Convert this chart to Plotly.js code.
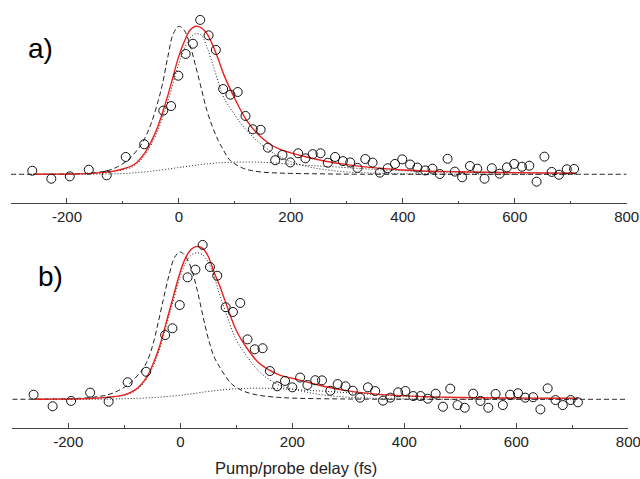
<!DOCTYPE html>
<html>
<head>
<meta charset="utf-8">
<script src="https://cdn.plot.ly/plotly-3.0.1.min.js"></script>
<style>html,body{margin:0;padding:0;background:#fff;}#chart{width:640px;height:479px;}</style>
</head>
<body>
<div id="chart"></div>
<script>
// ---- data ----
const delayA = [-262,-228,-195,-161,-129,-95,-62,-28,-14,-1,12,25,38,53,66,79,92,105,119,132,146,159,172,185,199,213,226,239,253,266,279,293,306,319,333,346,359,373,386,399,413,426,440,453,466,480,493,506,520,533,546,559,573,586,599,613,626,639,653,666,679,693,706];
const signalA = [0.024,-0.030,-0.014,0.031,-0.007,0.117,0.203,0.430,0.461,0.666,0.813,0.882,1.043,0.939,0.840,0.576,0.538,0.556,0.394,0.304,0.301,0.180,0.095,0.131,0.080,0.142,0.108,0.136,0.142,0.078,0.117,0.089,0.080,0.043,0.103,0.079,0.011,0.041,0.070,0.101,0.066,0.045,0.026,0.038,0.002,0.105,0.018,-0.020,0.056,0.038,-0.030,0.041,0.004,0.047,0.070,0.051,0.058,-0.050,0.119,0.016,-0.003,0.034,0.036];

const delayB = [-262,-228,-195,-161,-128,-94,-61,-27,-14,-1,13,27,40,53,66,81,94,107,120,133,147,160,173,187,200,214,227,241,253,268,281,295,308,321,335,348,362,375,389,402,416,429,442,456,469,482,495,508,523,536,550,563,576,589,603,616,630,643,656,670,683,697,710];
const signalB = [0.031,-0.047,-0.011,0.045,-0.016,0.115,0.186,0.434,0.480,0.637,0.824,0.876,1.043,0.894,0.835,0.622,0.590,0.651,0.405,0.338,0.345,0.191,0.088,0.124,0.081,0.147,0.097,0.129,0.128,0.058,0.103,0.088,0.058,0.011,0.081,0.056,-0.009,0.011,0.047,0.056,0.022,0.022,0.004,0.038,-0.050,0.072,-0.039,-0.057,0.038,-0.011,-0.057,0.036,-0.039,0.031,0.041,0.011,0.014,-0.068,0.074,-0.005,-0.039,-0.005,-0.020];

// fitted curves (read at sample delays)
const fitTime = [-260,-220,-180,-150,-120,-100,-80,-60,-40,-20,0,10,20,30,40,50,60,70,80,100,120,140,160,180,200,230,260,300,350,400,450,500,600,710];
const fitTotalA = [0,0.001,0.003,0.008,0.02,0.036,0.066,0.15,0.30,0.53,0.80,0.90,0.975,1.0,0.99,0.95,0.875,0.78,0.675,0.51,0.37,0.275,0.21,0.17,0.145,0.115,0.09,0.065,0.043,0.029,0.021,0.017,0.011,0.007];
const fitFastA = [0,0.001,0.003,0.007,0.017,0.031,0.056,0.134,0.275,0.49,0.75,0.85,0.92,0.95,0.94,0.86,0.75,0.63,0.52,0.40,0.30,0.225,0.165,0.12,0.085,0.052,0.032,0.016,0.008,0.004,0.002,0.001,0,0];
const fitSlowA = [0,0,0,0.001,0.003,0.005,0.01,0.016,0.025,0.035,0.046,0.051,0.056,0.061,0.066,0.07,0.074,0.077,0.079,0.082,0.083,0.082,0.079,0.074,0.068,0.06,0.054,0.045,0.033,0.024,0.018,0.014,0.009,0.006];

const fitTotalB = [0,0.001,0.003,0.008,0.018,0.03,0.065,0.15,0.325,0.59,0.862,0.96,1.015,1.033,1.02,0.965,0.862,0.77,0.665,0.465,0.34,0.247,0.195,0.16,0.142,0.113,0.085,0.057,0.035,0.023,0.016,0.012,0.008,0.007];
const fitFastB = [0,0.001,0.003,0.007,0.016,0.027,0.058,0.138,0.305,0.565,0.83,0.925,0.975,0.99,0.975,0.925,0.835,0.71,0.60,0.40,0.285,0.19,0.13,0.09,0.07,0.045,0.027,0.014,0.006,0.003,0.001,0,0,0];
const fitSlowB = [0,0,0,0,0.002,0.004,0.006,0.009,0.014,0.02,0.027,0.032,0.037,0.042,0.048,0.053,0.058,0.062,0.066,0.071,0.074,0.075,0.074,0.071,0.067,0.06,0.054,0.044,0.032,0.022,0.016,0.012,0.008,0.006];

// instrument response (dashed), over the full axis
const irfTime = [-300,-250,-200,-160,-130,-110,-90,-70,-60,-50,-40,-30,-20,-10,0,10,20,30,40,50,60,70,80,90,100,115,130,150,175,200,250,300,400,500,600,700,800];
const irfA = [0,0,0.002,0.008,0.022,0.05,0.10,0.186,0.25,0.34,0.457,0.60,0.79,0.95,1.0,0.97,0.87,0.73,0.58,0.43,0.32,0.23,0.16,0.10,0.07,0.04,0.025,0.014,0.009,0.006,0.003,0.001,0,0,0,0,0];
const irfB = [0,0.001,0.004,0.012,0.03,0.06,0.108,0.19,0.25,0.355,0.51,0.68,0.84,0.96,0.995,0.96,0.88,0.74,0.57,0.41,0.29,0.22,0.16,0.11,0.08,0.052,0.035,0.022,0.013,0.008,0.004,0.002,0,0,0,0,0];

const tickVals = [-200,0,200,400,600,800];
const tickText = ['-200','0','200','400','600','800'];
const panelLabels = ['a)','b)'];
const xTitle = 'Pump/probe delay (fs)';

// ---- drawing ----
const FONT = 'Liberation Sans, Arial, sans-serif';
function panel(xa, ya, irf, fast, slow, total, dx, dy) {
  const sp = {shape:'spline', smoothing:1};
  return [
    {x:irfTime, y:irf, xaxis:xa, yaxis:ya, mode:'lines', line:Object.assign({color:'#222', width:1, dash:'5px,3px'}, sp), hoverinfo:'skip'},
    {x:fitTime, y:slow, xaxis:xa, yaxis:ya, mode:'lines', line:Object.assign({color:'#222', width:1, dash:'1px,2px'}, sp), hoverinfo:'skip'},
    {x:fitTime, y:fast, xaxis:xa, yaxis:ya, mode:'lines', line:Object.assign({color:'#222', width:1, dash:'1px,2px'}, sp), hoverinfo:'skip'},
    {x:fitTime, y:total, xaxis:xa, yaxis:ya, mode:'lines', line:Object.assign({color:'#e8211f', width:1.4}, sp), hoverinfo:'skip'},
    {x:dx, y:dy, xaxis:xa, yaxis:ya, mode:'markers', marker:{symbol:'circle-open', size:9, color:'#111', line:{width:1, color:'#111'}}, cliponaxis:false}
  ];
}
const data = [].concat(
  panel('x','y', irfA, fitFastA, fitSlowA, fitTotalA, delayA, signalA),
  panel('x2','y2', irfB, fitFastB, fitSlowB, fitTotalB, delayB, signalB)
);
function xaxis(dom, anchor) {
  return {domain:dom, anchor:anchor, range:[-300,800], showgrid:false, zeroline:false,
    showline:true, linecolor:'#444', linewidth:1,
    ticks:'inside', ticklen:5, tickwidth:1, tickcolor:'#444',
    tickvals:tickVals, ticktext:tickText, ticklabeloverflow:'allow',
    minor:{ticks:'inside', ticklen:2.5, tickwidth:1, tickcolor:'#444', dtick:100, tick0:0, showgrid:false},
    tickfont:{family:FONT, size:15, color:'#222'}, automargin:false, fixedrange:true};
}
function yaxis(dom, anchor, lo, hi) {
  return {domain:dom, anchor:anchor, range:[lo,hi], visible:false, showgrid:false, zeroline:false, fixedrange:true};
}
const H = 479, W = 640;
const layout = {
  width:W, height:H, margin:{l:0,r:0,t:0,b:0}, showlegend:false,
  paper_bgcolor:'#fff', plot_bgcolor:'rgba(0,0,0,0)',
  xaxis: xaxis([11/W, 626.7/W], 'y'),
  yaxis: yaxis([1-203/H, 1-10/H], 'x', -0.194, 1.110),
  xaxis2: xaxis([12.3/W, 628.3/W], 'y2'),
  yaxis2: yaxis([1-427.5/H, 1-235/H], 'x2', -0.1905, 1.110),
  annotations: [
    {xref:'paper', yref:'paper', x:40/W, y:1-49/H, xanchor:'center', yanchor:'middle', text:panelLabels[0], showarrow:false, font:{family:FONT, size:28, color:'#000'}},
    {xref:'paper', yref:'paper', x:50.5/W, y:1-276/H, xanchor:'center', yanchor:'middle', text:panelLabels[1], showarrow:false, font:{family:FONT, size:28, color:'#000'}},
    {xref:'paper', yref:'paper', x:296/W, y:1-468/H, xanchor:'center', yanchor:'middle', text:xTitle, showarrow:false, font:{family:FONT, size:16.5, color:'#222'}}
  ]
};
Plotly.newPlot('chart', data, layout, {staticPlot:true, displayModeBar:false});
</script>
</body>
</html>
